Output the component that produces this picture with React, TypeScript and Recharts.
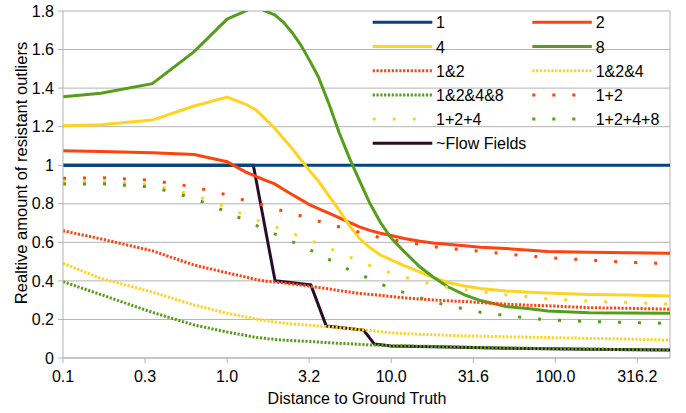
import React from 'react';
import { LineChart, Line, XAxis, YAxis, CartesianGrid, ReferenceLine, Legend, Label } from 'recharts';

const xValues = [0.1, 0.17, 0.35, 0.63, 1.0, 1.3, 1.5, 1.7, 1.95, 2.2, 2.5, 2.8, 3.2, 3.6, 4.2, 4.8, 5.6, 6.4, 7.4, 8.6, 10, 12, 15, 18, 22, 28, 35, 50, 70, 90, 160, 280, 500];

const s1 = [1, 1, 1, 1, 1, 1, 1, 1, 1, 1, 1, 1, 1, 1, 1, 1, 1, 1, 1, 1, 1, 1, 1, 1, 1, 1, 1, 1, 1, 1, 1, 1, 1];
const s2 = [1.075, 1.071, 1.065, 1.056, 1.018, 0.964, 0.942, 0.923, 0.903, 0.875, 0.847, 0.823, 0.794, 0.775, 0.75, 0.728, 0.702, 0.68, 0.662, 0.647, 0.635, 0.62, 0.606, 0.597, 0.59, 0.582, 0.574, 0.568, 0.559, 0.553, 0.548, 0.546, 0.543];
const s4 = [1.205, 1.21, 1.234, 1.307, 1.354, 1.316, 1.287, 1.242, 1.192, 1.14, 1.085, 1.031, 0.968, 0.918, 0.837, 0.769, 0.684, 0.621, 0.573, 0.534, 0.509, 0.479, 0.446, 0.417, 0.393, 0.373, 0.36, 0.348, 0.341, 0.337, 0.33, 0.327, 0.322];
const s8 = [1.355, 1.373, 1.423, 1.589, 1.758, 1.8, 1.83, 1.8, 1.78, 1.743, 1.686, 1.626, 1.54, 1.458, 1.312, 1.172, 1.032, 0.921, 0.804, 0.703, 0.622, 0.552, 0.472, 0.42, 0.371, 0.327, 0.298, 0.267, 0.256, 0.244, 0.235, 0.233, 0.232];
const s1a2 = [0.66, 0.618, 0.556, 0.482, 0.442, 0.42, 0.407, 0.399, 0.394, 0.39, 0.384, 0.379, 0.372, 0.366, 0.358, 0.35, 0.342, 0.335, 0.33, 0.325, 0.319, 0.312, 0.306, 0.301, 0.297, 0.293, 0.288, 0.279, 0.274, 0.271, 0.261, 0.258, 0.253];
const s1a2a4 = [0.491, 0.413, 0.342, 0.275, 0.232, 0.213, 0.202, 0.195, 0.187, 0.182, 0.176, 0.173, 0.17, 0.166, 0.162, 0.157, 0.152, 0.147, 0.143, 0.137, 0.13, 0.127, 0.123, 0.121, 0.118, 0.115, 0.113, 0.11, 0.108, 0.106, 0.102, 0.098, 0.093];
const s1a2a4a8 = [0.396, 0.329, 0.237, 0.171, 0.135, 0.117, 0.107, 0.102, 0.096, 0.093, 0.09, 0.088, 0.086, 0.083, 0.079, 0.076, 0.074, 0.071, 0.068, 0.066, 0.064, 0.063, 0.061, 0.06, 0.058, 0.056, 0.054, 0.052, 0.05, 0.049, 0.046, 0.043, 0.041];
const s1p2 = [0.932, 0.935, 0.922, 0.887, 0.846, 0.816, 0.803, 0.79, 0.775, 0.762, 0.749, 0.738, 0.723, 0.71, 0.694, 0.681, 0.666, 0.653, 0.638, 0.624, 0.614, 0.603, 0.589, 0.578, 0.569, 0.561, 0.554, 0.54, 0.528, 0.521, 0.508, 0.496, 0.49];
const s1p2p4 = [0.914, 0.914, 0.898, 0.845, 0.78, 0.74, 0.717, 0.7, 0.682, 0.664, 0.646, 0.629, 0.611, 0.593, 0.57, 0.547, 0.523, 0.5, 0.48, 0.459, 0.44, 0.42, 0.397, 0.381, 0.367, 0.355, 0.344, 0.328, 0.316, 0.306, 0.295, 0.287, 0.279];
const s1p2p4p8 = [0.902, 0.904, 0.887, 0.828, 0.757, 0.712, 0.688, 0.667, 0.644, 0.624, 0.603, 0.584, 0.561, 0.54, 0.51, 0.485, 0.455, 0.435, 0.41, 0.384, 0.362, 0.339, 0.312, 0.292, 0.273, 0.254, 0.237, 0.22, 0.207, 0.198, 0.189, 0.184, 0.18];

const flowX = [0.1, 1.445, 1.96, 3.24, 4.02, 6.79, 7.88, 10, 22, 50, 160, 500];
const flowY = [1.0, 1.0, 0.401, 0.379, 0.166, 0.145, 0.073, 0.062, 0.057, 0.051, 0.046, 0.041];

const xTicks = [0.1, 0.3162, 1, 3.162, 10, 31.62, 100, 316.2];
const yTicks = [0, 0.2, 0.4, 0.6, 0.8, 1, 1.2, 1.4, 1.6, 1.8];

const FINE = '2.2 1.6';
const SPARSE = '3 17';

const series = [
  { key: 's1', name: '1', color: '#004586', dash: undefined as string | undefined, values: s1 },
  { key: 's2', name: '2', color: '#ff420e', dash: undefined, values: s2 },
  { key: 's4', name: '4', color: '#ffd320', dash: undefined, values: s4 },
  { key: 's8', name: '8', color: '#579d1c', dash: undefined, values: s8 },
  { key: 's1a2', name: '1&2', color: '#ff420e', dash: FINE, values: s1a2 },
  { key: 's1a2a4', name: '1&2&4', color: '#ffd320', dash: FINE, values: s1a2a4 },
  { key: 's1a2a4a8', name: '1&2&4&8', color: '#579d1c', dash: FINE, values: s1a2a4a8 },
  { key: 's1p2', name: '1+2', color: '#ff420e', dash: SPARSE, values: s1p2 },
  { key: 's1p2p4', name: '1+2+4', color: '#ffd320', dash: SPARSE, values: s1p2p4 },
  { key: 's1p2p4p8', name: '1+2+4+8', color: '#579d1c', dash: SPARSE, values: s1p2p4p8 },
];

const flowSeries = { key: 'flow', name: '~Flow Fields', color: '#2a0c2a', dash: undefined as string | undefined };

const mainData = xValues.map((x, i) => {
  const row: Record<string, number> = { x };
  series.forEach((s) => {
    row[s.key] = s.values[i];
  });
  return row;
});

const flowData = flowX.map((x, i) => ({ x, flow: flowY[i] }));

const legendItems = [...series, flowSeries];

const FONT = '"Liberation Sans", Arial, sans-serif';

const renderLegend = () => (
  <svg width={320} height={150} style={{ display: 'block', overflow: 'visible' }}>
    {legendItems.map((s, i) => {
      const row = Math.floor(i / 2);
      const col = i % 2;
      const x0 = 12.7 + col * 159.6;
      const y = 14.3 + row * 24.2;
      return (
        <g key={s.key}>
          <line x1={x0} x2={x0 + 59.6} y1={y} y2={y} stroke={s.color} strokeWidth={3} strokeDasharray={s.dash} />
          <text x={x0 + 63.4} y={y + 6} fontSize={16} fontFamily={FONT} fill="#000">
            {s.name}
          </text>
        </g>
      );
    })}
  </svg>
);

const fmtX = (v: number) => v.toFixed(1);
const fmtY = (v: number) => String(v);

export default function App() {
  return (
    <div style={{ position: 'absolute', left: 0, top: 0, width: 686, height: 413, background: '#fff', fontFamily: FONT }}>
      <LineChart width={686} height={413} data={mainData} margin={{ top: 11, right: 16, bottom: 0, left: 0 }}>
        <CartesianGrid vertical={false} stroke="#b3b3b3" strokeWidth={1} />
        <XAxis
          dataKey="x"
          type="number"
          scale="log"
          domain={[0.1, 500]}
          allowDataOverflow
          ticks={xTicks}
          interval={0}
          tickFormatter={fmtX}
          height={55}
          tickSize={5}
          tickMargin={8}
          axisLine={{ stroke: '#b3b3b3' }}
          tickLine={{ stroke: '#b3b3b3' }}
          tick={{ fill: '#000', fontSize: 16, fontFamily: FONT }}
        >
          <Label
            content={() => (
              <text x={357} y={404} textAnchor="middle" fontSize={16} fontFamily={FONT} fill="#000">
                Distance to Ground Truth
              </text>
            )}
          />
        </XAxis>
        <YAxis
          type="number"
          domain={[0, 1.8]}
          allowDataOverflow
          ticks={yTicks}
          interval={0}
          tickFormatter={fmtY}
          width={63}
          tickSize={5}
          tickMargin={4}
          axisLine={{ stroke: '#b3b3b3' }}
          tickLine={{ stroke: '#b3b3b3' }}
          tick={{ fill: '#000', fontSize: 16, fontFamily: FONT }}
        >
          <Label
            content={() => (
              <text x={27} y={173} transform="rotate(-90 27 173)" textAnchor="middle" fontSize={16.5} fontFamily={FONT} fill="#000">
                Realtive amount of resistant outliers
              </text>
            )}
          />
        </YAxis>
        <ReferenceLine x={500} stroke="#b3b3b3" strokeWidth={1} ifOverflow="visible" />
        <Line
          data={flowData}
          dataKey="flow"
          name={flowSeries.name}
          stroke={flowSeries.color}
          strokeWidth={3}
          type="linear"
          dot={false}
          activeDot={false}
          isAnimationActive={false}
        />
        {series.map((s) => (
          <Line
            key={s.key}
            dataKey={s.key}
            name={s.name}
            stroke={s.color}
            strokeWidth={3}
            strokeDasharray={s.dash}
            type="linear"
            dot={false}
            activeDot={false}
            isAnimationActive={false}
          />
        ))}
        <Legend
          layout="vertical"
          align="center"
          verticalAlign="middle"
          content={renderLegend}
          wrapperStyle={{ left: 360, top: 8, width: 320, height: 150 }}
        />
      </LineChart>
    </div>
  );
}
